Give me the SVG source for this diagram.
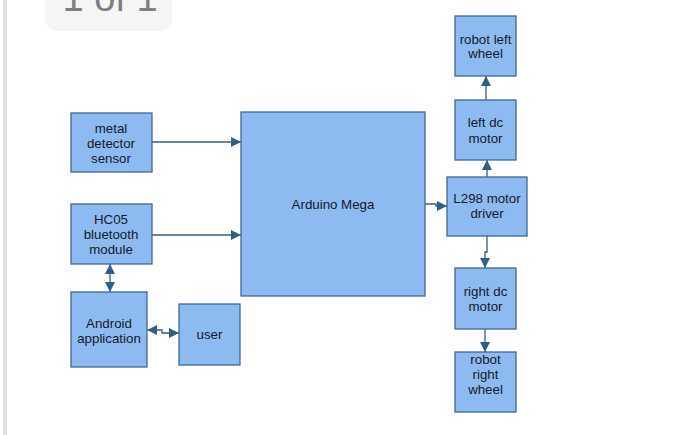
<svg xmlns="http://www.w3.org/2000/svg" width="700" height="435" viewBox="0 0 700 435">
<defs>
<style>
.box{fill:#8dbbf1;stroke:#43688f;stroke-width:1.3}
.t{font-family:"Liberation Sans",Arial,sans-serif;font-size:13.3px;fill:#15192a;text-anchor:middle}
.c{fill:none;stroke:#325d86;stroke-width:1.3}
</style>
<marker id="ah" viewBox="0 0 10 10" refX="10" refY="5" markerWidth="10" markerHeight="10" markerUnits="userSpaceOnUse" orient="auto-start-reverse">
<path d="M0,0 L10,5 L0,10 z" fill="#325d86"/>
</marker>
</defs>
<rect width="700" height="435" fill="#ffffff"/>
<rect x="3" y="0" width="4" height="435" fill="#e2e1e8"/>
<g id="pager">
<rect x="45" y="-20" width="127" height="51" rx="13" fill="#f5f5f5"/>
<text x="110" y="11" font-family="Liberation Sans,Arial,sans-serif" font-size="38" fill="#7e7e7e" text-anchor="middle">1 of 1</text>
</g>
<g id="connectors">
<path class="c" d="M152,142 H241" marker-end="url(#ah)"/>
<path class="c" d="M152,235 H241" marker-end="url(#ah)"/>
<path class="c" d="M425,204 H436 V206 H447" marker-end="url(#ah)"/>
<path class="c" d="M487,177 V160" marker-end="url(#ah)"/>
<path class="c" d="M486,100 V76" marker-end="url(#ah)"/>
<path class="c" d="M487,236 V252 H485 V268" marker-end="url(#ah)"/>
<path class="c" d="M485,329 V352" marker-end="url(#ah)"/>
<path class="c" d="M110,264 V292" marker-start="url(#ah)" marker-end="url(#ah)"/>
<path class="c" d="M147,330 H162 V333 H179" marker-start="url(#ah)" marker-end="url(#ah)"/>
</g>
<g id="metal-detector">
<rect class="box" x="71" y="113" width="81" height="59"/>
<text class="t" x="111" y="133">metal</text>
<text class="t" x="111" y="148">detector</text>
<text class="t" x="111" y="163">sensor</text>
</g>
<g id="hc05">
<rect class="box" x="71" y="204" width="81" height="60"/>
<text class="t" x="111" y="224">HC05</text>
<text class="t" x="111" y="239">bluetooth</text>
<text class="t" x="111" y="254">module</text>
</g>
<g id="android">
<rect class="box" x="71" y="292" width="76" height="75"/>
<text class="t" x="109" y="328">Android</text>
<text class="t" x="109" y="343">application</text>
</g>
<g id="user">
<rect class="box" x="179" y="304" width="61" height="61"/>
<text class="t" x="209.5" y="339">user</text>
</g>
<g id="arduino">
<rect class="box" x="241" y="112" width="184" height="184"/>
<text class="t" x="333" y="209">Arduino Mega</text>
</g>
<g id="l298">
<rect class="box" x="447" y="177" width="80" height="59"/>
<text class="t" x="487" y="203">L298 motor</text>
<text class="t" x="487" y="218">driver</text>
</g>
<g id="left-motor">
<rect class="box" x="455" y="100" width="61" height="60"/>
<text class="t" x="485.5" y="127">left dc</text>
<text class="t" x="485.5" y="143">motor</text>
</g>
<g id="left-wheel">
<rect class="box" x="455" y="16" width="61" height="60"/>
<text class="t" x="485.5" y="44">robot left</text>
<text class="t" x="485.5" y="58">wheel</text>
</g>
<g id="right-motor">
<rect class="box" x="455" y="268" width="61" height="61"/>
<text class="t" x="485.5" y="296">right dc</text>
<text class="t" x="485.5" y="311">motor</text>
</g>
<g id="right-wheel">
<rect class="box" x="455" y="352" width="61" height="60"/>
<text class="t" x="485.5" y="364">robot</text>
<text class="t" x="485.5" y="379">right</text>
<text class="t" x="485.5" y="394">wheel</text>
</g>
</svg>
